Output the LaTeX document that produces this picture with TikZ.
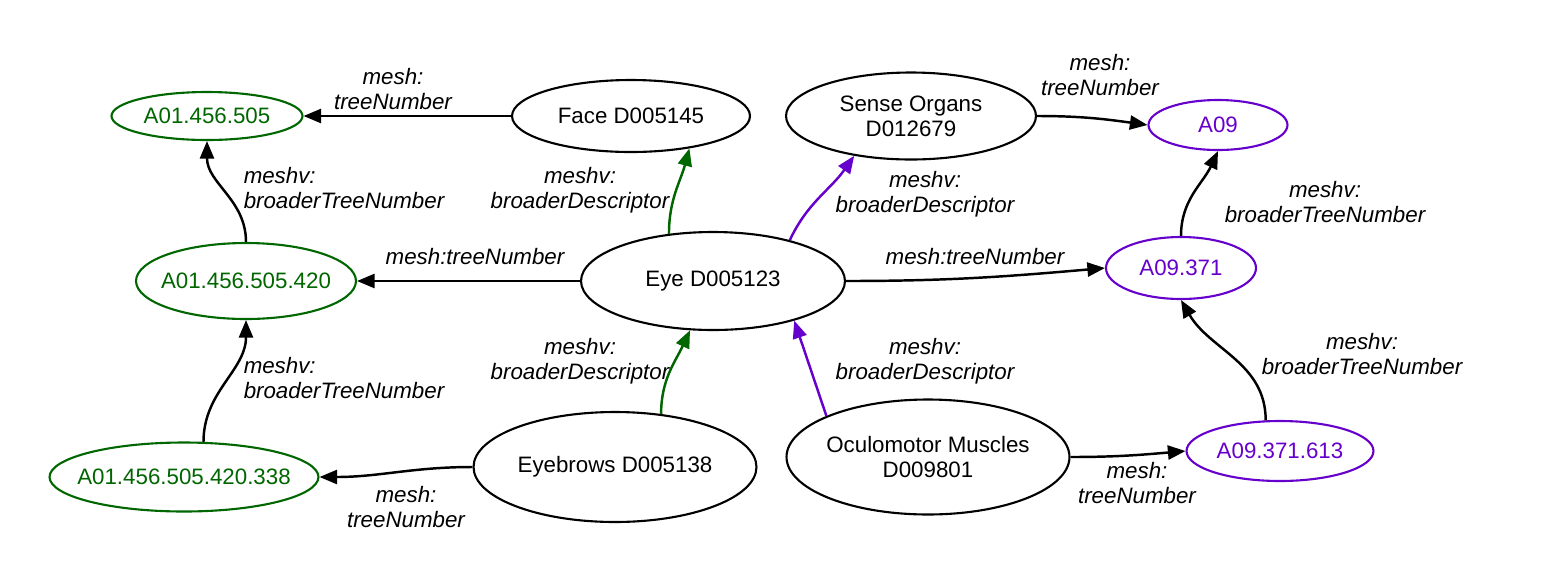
\documentclass[tikz,border=0pt]{standalone}
\usepackage{fontspec}
\setmainfont{Liberation Sans}
\usepackage{tikz}
\usetikzlibrary{shapes.geometric,arrows.meta}
\definecolor{meshgreen}{HTML}{006600}
\definecolor{meshpurple}{HTML}{6600CC}

\begin{document}
\begin{tikzpicture}[x=0.02cm,y=0.02cm,
		font=\fontsize{12.7}{14.2}\selectfont,
		term/.style={ellipse,draw,line width=1.2pt,inner sep=-8pt},
		tree/.style={term,text=#1,draw=#1},
		rel/.style={line width=1.4pt,-{Triangle[length=10pt,width=8pt]}},
		lbl/.style={font=\fontsize{12.7}{14.2}\selectfont\itshape,align=center}]

		\useasboundingbox (0,0) rectangle (1563,-586);

		% Descriptors
		\node[term,minimum width=4.76cm,minimum height=1.44cm] (face) at (631,-116) {Face D005145};
		\node[term,minimum width=5.0cm,minimum height=1.74cm,align=center] (sense) at (911,-116) {Sense Organs\\D012679};
		\node[term,minimum width=5.28cm,minimum height=1.96cm] (eye) at (713,-281) {Eye D005123};
		\node[term,minimum width=5.66cm,minimum height=2.2cm] (brows) at (615,-467) {Eyebrows D005138};
		\node[term,minimum width=5.66cm,minimum height=2.3cm,align=center] (oculo) at (928,-457) {Oculomotor Muscles\\D009801};

		% Tree numbers A01
		\node[tree=meshgreen,minimum width=3.82cm,minimum height=0.96cm] (t505) at (207,-116) {A01.456.505};
		\node[tree=meshgreen,minimum width=4.4cm,minimum height=1.52cm] (t420) at (246,-281) {A01.456.505.420};
		\node[tree=meshgreen,minimum width=5.38cm,minimum height=1.38cm] (t338) at (184,-477) {A01.456.505.420.338};

		% Tree numbers A09
		\node[tree=meshpurple,minimum width=2.78cm,minimum height=1.0cm] (a09) at (1218,-125) {A09};
		\node[tree=meshpurple,minimum width=3.0cm,minimum height=1.24cm] (a371) at (1181,-268) {A09.371};
		\node[tree=meshpurple,minimum width=3.74cm,minimum height=1.2cm] (a613) at (1280,-451) {A09.371.613};

		% mesh:treeNumber
		\draw[rel] (face.west) -- (t505.east);
		\draw[rel] (sense.east) to[out=0,in=172] (a09.west);
		\draw[rel] (eye.west) -- (t420.east);
		\draw[rel] (eye.east) to[out=0,in=185] (a371.west);
		\draw[rel] (brows.west) to[out=180,in=0] (t338.east);
		\draw[rel] (oculo.east) to[out=0,in=185] (a613.west);

		% meshv:broaderTreeNumber
		\draw[rel] (t420.north) to[out=90,in=-90] (t505.south);
		\draw[rel] (t338.61) to[out=90,in=-90] (t420.south);
		\draw[rel] (a371.north) to[out=90,in=-115] (a09.south);
		\draw[rel] (a613.115) to[out=90,in=-60] (a371.south);

		% meshv:broaderDescriptor
		\draw[rel,meshgreen] (eye.133) to[out=90,in=-105] (face.-29);
		\draw[rel,meshgreen] (brows.49) to[out=90,in=-115] (eye.-115);
		\draw[rel,meshpurple] (eye.28) to[out=65,in=-125] (sense.-145);
		\draw[rel,meshpurple] (oculo.158) -- (eye.-26);

		% Labels
		\foreach \x/\y/\t [count=\i] in {393/89/{mesh:\\treeNumber}, 1100/75/{mesh:\\treeNumber},
				475/257/{mesh:treeNumber}, 975/257/{mesh:treeNumber},
				406/507/{mesh:\\treeNumber}, 1137/483/{mesh:\\treeNumber},
				1325/202/{meshv:\\broaderTreeNumber}, 1362/354/{meshv:\\broaderTreeNumber},
				580/190/{meshv:\\broaderDescriptor}, 925/194/{meshv:\\broaderDescriptor},
				580/361/{meshv:\\broaderDescriptor}, 925/361/{meshv:\\broaderDescriptor}}
			\node[lbl] (lbl\i) at (\x,-\y) {\t};
		\node[lbl,align=left] (lblA) at (344,-188) {meshv:\\broaderTreeNumber};
		\node[lbl,align=left] (lblB) at (344,-378) {meshv:\\broaderTreeNumber};
	\end{tikzpicture}
\end{document}
